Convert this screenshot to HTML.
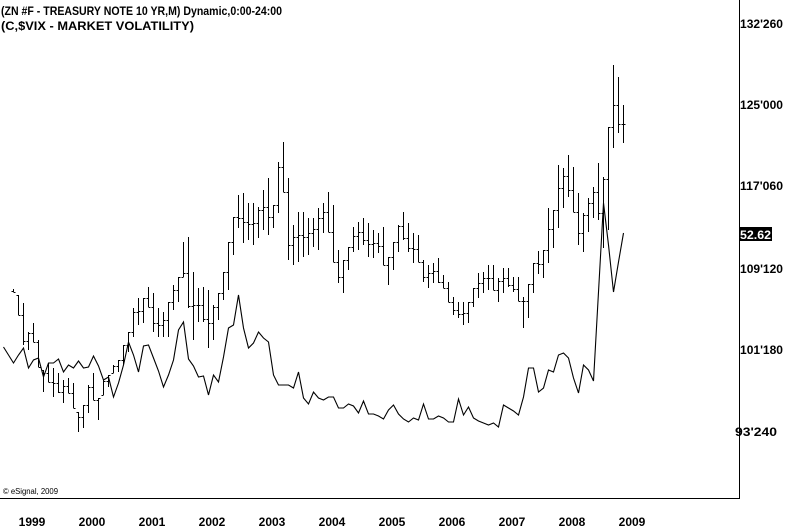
<!DOCTYPE html>
<html>
<head>
<meta charset="utf-8">
<style>
html,body{margin:0;padding:0;background:#fff;}
svg{display:block;}
text{font-family:"Liberation Sans",Arial,sans-serif;}
</style>
</head>
<body>
<svg id="c" width="788" height="530" viewBox="0 0 788 530" xmlns="http://www.w3.org/2000/svg">
<rect x="0" y="0" width="788" height="530" fill="#fff"/>
<text x="1" y="15" font-size="12" font-weight="bold" textLength="281" lengthAdjust="spacingAndGlyphs">(ZN #F - TREASURY NOTE 10 YR,M) Dynamic,0:00-24:00</text>
<text x="1" y="30" font-size="12" font-weight="bold" textLength="193" lengthAdjust="spacingAndGlyphs">(C,$VIX - MARKET VOLATILITY)</text>

<path id="bars" fill="none" stroke="#000" stroke-width="1" shape-rendering="crispEdges" d="M13.5 289V292M18.5 295V315M23.5 303V345M28.5 332V350M33.5 323V342M38.5 340V367M43.5 370V392M48.5 363V382M53.5 368V397M58.5 373V393M63.5 380V403M68.5 378V393M73.5 383V408M78.5 412V432M83.5 405V428M88.5 385V413M93.5 373V400M98.5 398V420M103.5 380V395M108.5 375V387M113.5 365V373M118.5 360V372M123.5 345V365M128.5 332V352M133.5 308V337M138.5 298V325M143.5 298V323M148.5 287V307M153.5 293V332M158.5 308V337M163.5 312V337M168.5 302V337M173.5 285V310M178.5 277V302M183.5 242V277M188.5 237V308M193.5 272V340M198.5 288V322M203.5 287V322M208.5 290V348M213.5 305V340M218.5 293V320M223.5 272V300M228.5 242V290M233.5 217V255M238.5 195V228M243.5 193V243M248.5 203V240M253.5 203V245M258.5 207V238M263.5 190V230M268.5 178V235M273.5 205V228M278.5 162V213M283.5 142V192M288.5 178V260M293.5 225V265M298.5 212V262M303.5 212V257M308.5 218V255M313.5 218V247M318.5 208V250M323.5 203V233M328.5 192V232M333.5 205V262M338.5 250V283M343.5 260V293M348.5 247V270M353.5 227V252M358.5 222V250M363.5 218V245M368.5 223V257M373.5 230V258M378.5 233V253M383.5 227V265M388.5 257V285M393.5 242V270M398.5 225V252M403.5 212V240M408.5 223V252M413.5 233V263M418.5 235V262M423.5 260V282M428.5 265V288M433.5 263V283M438.5 258V283M443.5 275V288M448.5 282V302M453.5 297V315M458.5 302V318M463.5 302V325M468.5 302V323M473.5 288V307M478.5 273V298M483.5 272V293M488.5 265V290M493.5 265V290M498.5 278V302M503.5 268V293M508.5 268V287M513.5 277V292M518.5 277V301M523.5 297V328M528.5 284V318M533.5 263V293M538.5 251V274M543.5 250V278M548.5 208V263M553.5 210V248M558.5 165V228M563.5 168V208M568.5 155V197M573.5 167V212M578.5 193V245M583.5 213V252M588.5 198V232M593.5 187V218M598.5 163V220M603.5 177V248M608.5 127V230M613.5 65V148M618.5 77V133M623.5 105V143"/>
<path id="ticks" fill="none" stroke="#000" stroke-width="1" shape-rendering="crispEdges" d=""/>

<polyline fill="none" stroke="#000" stroke-width="1.1" stroke-linejoin="miter" points="3.5,347 8.5,355 13.5,363 18.5,355 23.5,348 28.5,368 33.5,360 38.5,358 43.5,377 48.5,363 53.5,363 58.5,359 63.5,372 68.5,365 73.5,368 78.5,361 83.5,368 88.5,367 93.5,356 98.5,366 103.5,380 108.5,377 113.5,397 118.5,383 123.5,365 128.5,342 133.5,355 138.5,372 143.5,346 148.5,345 153.5,358 158.5,371 163.5,387 168.5,375 173.5,360 178.5,330 183.5,322 188.5,359 193.5,366 198.5,377 203.5,376 208.5,395 213.5,375 218.5,382 223.5,357 228.5,328 233.5,325 238.5,295 243.5,328 248.5,348 253.5,343 258.5,332 263.5,338 268.5,342 273.5,375 278.5,385 283.5,385 288.5,385 293.5,388 298.5,372 303.5,398 308.5,404 313.5,392 318.5,398 323.5,400 328.5,397 333.5,397 338.5,408 343.5,408 348.5,404 353.5,406 358.5,413 363.5,401 368.5,414 373.5,414 378.5,416 383.5,419 388.5,410 393.5,405 398.5,414 403.5,419 408.5,422 413.5,418 418.5,420 423.5,404 428.5,419 433.5,419 438.5,416 443.5,418 448.5,422 453.5,422 458.5,399 463.5,415 468.5,407 473.5,418 478.5,421 483.5,423 488.5,425 493.5,423 498.5,427 503.5,405 508.5,408 513.5,411 518.5,415 523.5,397 528.5,368 533.5,368 538.5,392 543.5,388 548.5,370 553.5,372 558.5,355 563.5,353 568.5,358 573.5,378 578.5,393 583.5,365 588.5,370 593.5,381 598.5,292 603.5,203 608.5,245 613.5,292 618.5,262 623.5,233"/>

<!-- frame -->
<path d="M739.5 0V498.5H0" fill="none" stroke="#000" stroke-width="1" shape-rendering="crispEdges"/>

<!-- right axis labels -->
<g font-size="12" font-weight="bold" fill="#000">
<text x="740" y="28" textLength="43" lengthAdjust="spacingAndGlyphs">132'260</text>
<text x="740" y="109" textLength="43" lengthAdjust="spacingAndGlyphs">125'000</text>
<text x="740" y="190" textLength="43" lengthAdjust="spacingAndGlyphs">117'060</text>
<text x="740" y="273" textLength="43" lengthAdjust="spacingAndGlyphs">109'120</text>
<text x="740" y="354" textLength="43" lengthAdjust="spacingAndGlyphs">101'180</text>
<text x="735" y="436" textLength="42" lengthAdjust="spacingAndGlyphs">93'240</text>
</g>
<rect x="739" y="227" width="33" height="14" fill="#000"/>
<text x="740" y="239" font-size="12" font-weight="bold" fill="#fff" textLength="31" lengthAdjust="spacingAndGlyphs">52.62</text>

<!-- copyright -->
<text x="3" y="494" font-size="8" fill="#000" textLength="55" lengthAdjust="spacingAndGlyphs">© eSignal, 2009</text>

<!-- year labels -->
<g font-size="12" font-weight="bold" fill="#000" text-anchor="middle">
<text x="32" y="526">1999</text>
<text x="92" y="526">2000</text>
<text x="152" y="526">2001</text>
<text x="212" y="526">2002</text>
<text x="272" y="526">2003</text>
<text x="332" y="526">2004</text>
<text x="392" y="526">2005</text>
<text x="452" y="526">2006</text>
<text x="512" y="526">2007</text>
<text x="572" y="526">2008</text>
<text x="632" y="526">2009</text>
</g>
</svg>
<script>
(function(){
  var d=document.getElementById('bars').getAttribute('d');
  var re=/M([\d.]+) (\d+)V(\d+)/g,m,b=[];
  while((m=re.exec(d))){b.push({x:parseFloat(m[1]),h:+m[2],l:+m[3]});}
  function cl(v,a,c){return Math.max(a,Math.min(c,v));}
  var out='',prevC=null;
  for(var i=0;i<b.length;i++){
    var k=b[i],mid=Math.round((k.h+k.l)/2);
    var nx=b[i+1]?Math.round((b[i+1].h+b[i+1].l)/2):mid;
    var c=cl(nx,k.h,k.l);
    var o=prevC===null?mid:cl(prevC,k.h,k.l);
    out+='M'+(k.x-2)+' '+(o+0.5)+'H'+k.x+'M'+k.x+' '+(c+0.5)+'H'+(k.x+2);
    prevC=c;
  }
  document.getElementById('ticks').setAttribute('d',out);
})();
</script>
</body>
</html>
